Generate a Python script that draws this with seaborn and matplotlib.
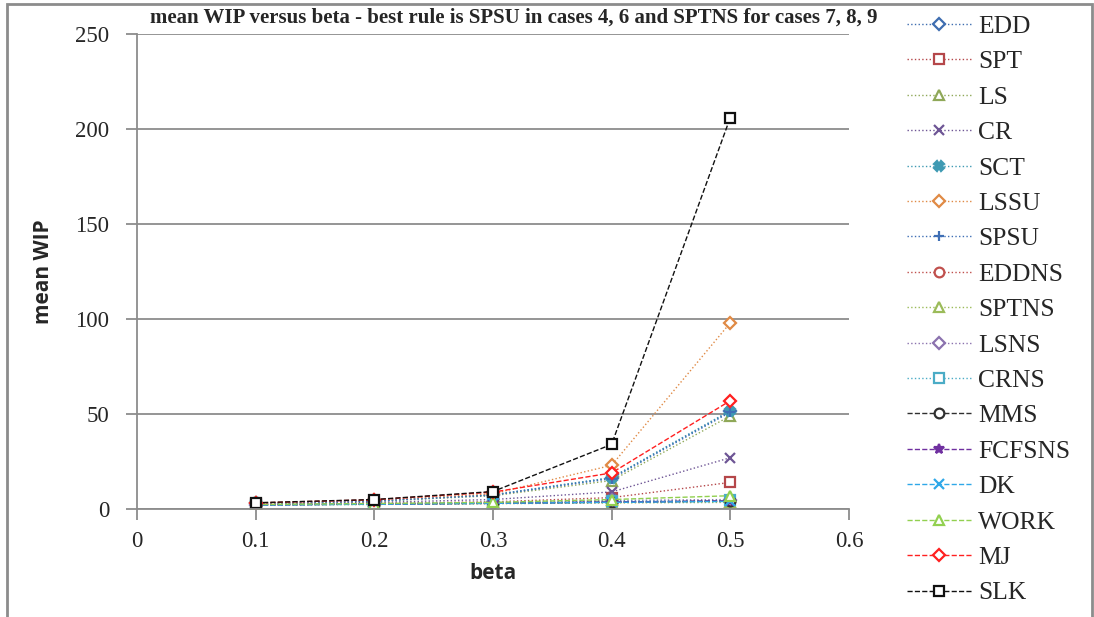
import pandas as pd
import matplotlib.pyplot as plt
import seaborn as sns
from matplotlib.patches import Rectangle

# data
beta = [0.1, 0.2, 0.3, 0.4, 0.5]
rules = ['EDD', 'SPT', 'LS', 'CR', 'SCT', 'LSSU', 'SPSU', 'EDDNS', 'SPTNS',
         'LSNS', 'CRNS', 'MMS', 'FCFSNS', 'DK', 'WORK', 'MJ', 'SLK']
edd = [3.0, 4.2, 7.5, 16.5, 51.5]
spt = [2.6, 3.0, 3.8, 6.0, 14.0]
ls = [3.0, 4.1, 7.0, 15.0, 49.0]
cr = [2.8, 3.5, 5.0, 9.0, 27.0]
sct = [3.0, 4.2, 7.4, 16.5, 51.8]
lssu = [3.1, 4.6, 8.0, 23.0, 98.0]
spsu = [3.0, 4.2, 7.3, 16.0, 51.0]
eddns = [2.2, 2.6, 3.0, 3.5, 4.0]
sptns = [2.1, 2.4, 2.8, 3.2, 3.5]
lsns = [2.3, 2.8, 3.5, 4.5, 5.0]
crns = [2.2, 2.7, 3.2, 4.0, 4.5]
mms = [2.2, 2.6, 3.0, 3.6, 4.2]
fcfsns = [2.2, 2.6, 3.1, 3.7, 4.3]
dk = [2.1, 2.5, 3.0, 3.5, 4.0]
work = [2.4, 2.9, 3.5, 5.0, 7.0]
mj = [3.2, 4.9, 8.9, 19.0, 57.0]
slk = [3.3, 5.0, 9.2, 34.0, 206.0]
values = [edd, spt, ls, cr, sct, lssu, spsu, eddns, sptns,
          lsns, crns, mms, fcfsns, dk, work, mj, slk]

colors = ['#3E6DB0', '#B5474A', '#8FA858', '#6E5595', '#3F9AB3', '#E08A45',
          '#3F6FB5', '#C0504D', '#9BBB59', '#8B72AE', '#4BACC6', '#303030',
          '#7030A0', '#2FA8E8', '#92D050', '#FF2020', '#111111']
markers = ['D', 's', '^', 'x', 'X', 'D', '+', 'o', '^', 'D', 's', 'o',
           '*', 'x', '^', 'D', 's']
styles = [':'] * 11 + ['--'] * 6

df = pd.DataFrame({'beta': beta * len(rules),
                   'wip': [v for vals in values for v in vals],
                   'rule': [r for r in rules for _ in beta]})

sns.set_style('white')
plt.rcParams['font.family'] = ['Liberation Serif', 'DejaVu Serif']

fig = plt.figure(figsize=(10.94, 6.17), dpi=100)
ax = fig.add_axes([0.1252, 0.175, 0.6508, 0.7699])

for i, rule in enumerate(rules):
    sub = df[df['rule'] == rule]
    filled = markers[i] in ('x', 'X', '+', '*')
    sns.lineplot(data=sub, x='beta', y='wip', ax=ax, label=rule,
                 color=colors[i], linestyle=styles[i], linewidth=1.0,
                 marker=markers[i], markersize=7 if markers[i] != 'D' else 6,
                 markerfacecolor=colors[i] if filled else 'white',
                 markeredgecolor=colors[i], markeredgewidth=1.6)

ax.set_xlim(0, 0.6)
ax.set_ylim(0, 250)
ax.set_xticks([0, 0.1, 0.2, 0.3, 0.4, 0.5, 0.6])
ax.set_xticklabels(['0', '0.1', '0.2', '0.3', '0.4', '0.5', '0.6'])
ax.set_yticks([0, 50, 100, 150, 200, 250])
ax.yaxis.grid(True, color='#8c8c8c', linewidth=1.3)
ax.set_axisbelow(True)
for s in ['top', 'right']:
    ax.spines[s].set_visible(False)
for s in ['left', 'bottom']:
    ax.spines[s].set_color('#8c8c8c')
    ax.spines[s].set_linewidth(1.3)
ax.tick_params(axis='both', direction='out', length=8, width=1.3,
               color='#8c8c8c', labelsize=16.5, bottom=True, left=True)
ax.tick_params(axis='y', pad=12)
ax.tick_params(axis='x', pad=8)

ax.set_xlabel('beta', fontsize=15, fontweight='bold',
              family=['Open Sans', 'DejaVu Sans'], labelpad=8)
ax.set_ylabel('mean WIP', fontsize=15, fontweight='bold',
              family=['Open Sans', 'DejaVu Sans'], labelpad=15)

fig.text(0.47, 0.971, 'mean WIP versus beta - best rule is SPSU in cases 4, 6 and SPTNS for cases 7, 8, 9',
         ha='center', va='center', fontsize=15, fontweight='bold')

ax.legend(loc='upper left', bbox_to_anchor=(1.081, 1.04), frameon=False,
          fontsize=18.4, handlelength=2.55, labelspacing=0.49, handletextpad=0.24,
          borderaxespad=0, borderpad=0)

fig.patches.append(Rectangle((0.006, -0.05), 0.992, 1.043, transform=fig.transFigure,
                             fill=False, edgecolor='#8c8c8c', linewidth=2))

fig.savefig('out.png', dpi=100)
